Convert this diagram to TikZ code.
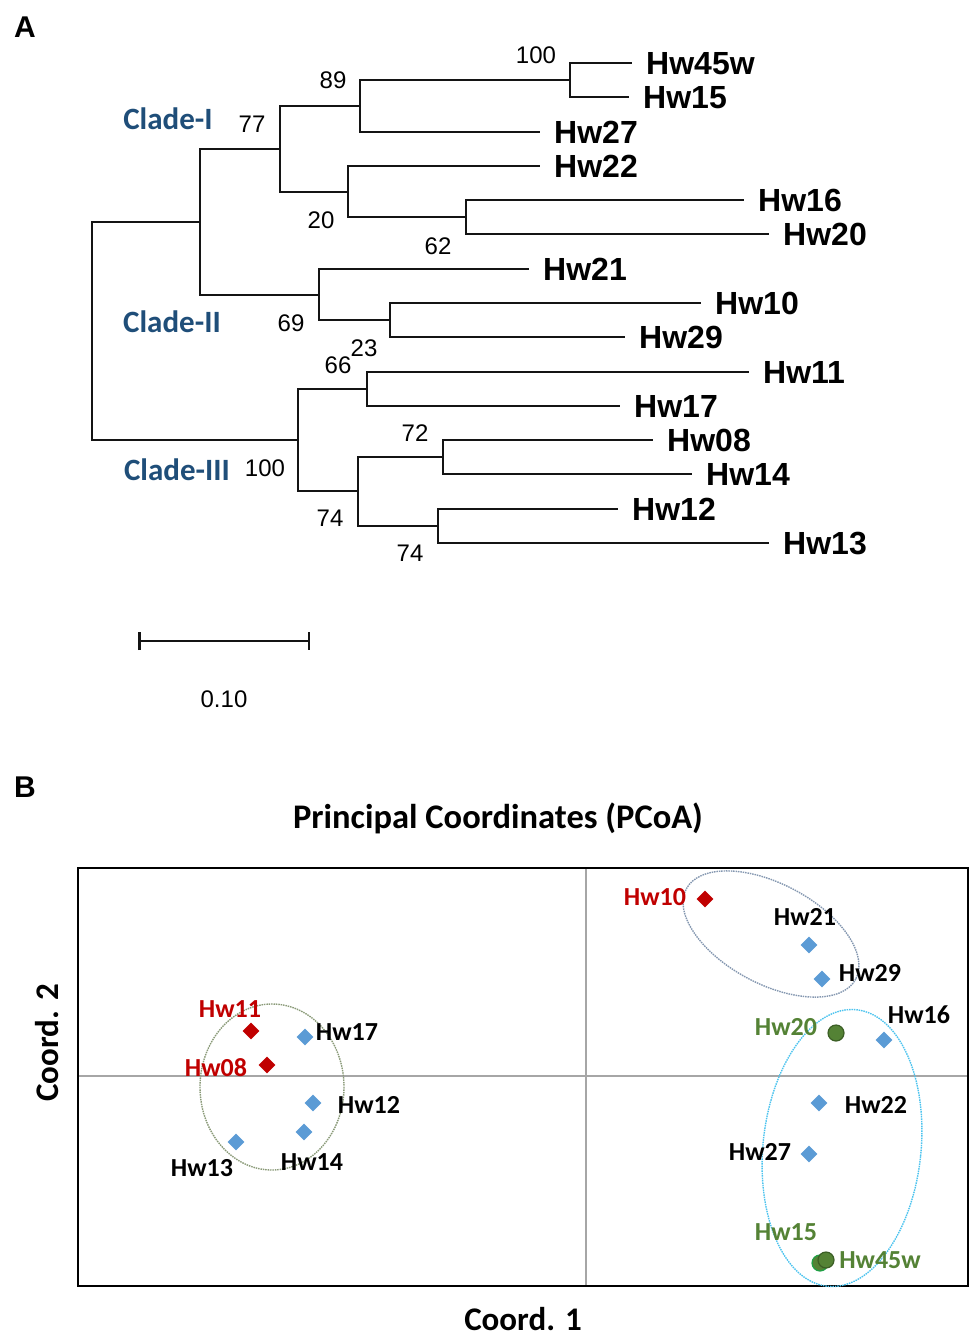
\documentclass[tikz,border=0pt]{standalone}
\usepackage{fontspec}
\setmainfont{Liberation Sans}
\newfontfamily\calfont{Carlito}
\usepackage{tikz}
\usetikzlibrary{arrows.meta,positioning,shapes.geometric}
\definecolor{treeline}{HTML}{141414}
\definecolor{cladeblue}{HTML}{1F4E79}
\definecolor{ptblue}{HTML}{5B9BD5}
\definecolor{ptred}{HTML}{C00000}
\definecolor{ptgreen}{HTML}{548235}
\definecolor{ptgreendark}{HTML}{3B5E25}
\definecolor{ptgreenlight}{HTML}{1FA045}
\definecolor{axisgray}{HTML}{A6A6A6}
\definecolor{ringblue}{HTML}{8497B0}
\definecolor{ringcyan}{HTML}{4CC3EE}
\definecolor{ringgreen}{HTML}{8A9A78}
\tikzset{
    panel/.style={font=\fontsize{30}{30}\selectfont\bfseries, inner sep=0pt},
    leaf/.style={anchor=west, inner xsep=15pt, inner ysep=0pt, font=\fontsize{32}{32}\selectfont\bfseries, text height=23pt, text depth=0pt},
    boot/.style={font=\fontsize{24}{24}\selectfont, inner sep=0pt},
    clade/.style={font=\fontsize{31}{31}\selectfont\calfont\bfseries, text=cladeblue, inner sep=0pt},
    elbow/.style={to path={|- (\tikztotarget) \tikztonodes}},
    branch/.style={draw=treeline, line width=2.4pt, line cap=rect, elbow},
    pcoa/.style={font=\fontsize{33}{33}\selectfont\calfont\bfseries, inner sep=0pt},
    ptlabel/.style={font=\fontsize{26}{26}\selectfont\calfont\bfseries, inner sep=0pt},
    bluept/.style={diamond, fill=ptblue, inner sep=0pt, minimum size=17pt},
    redpt/.style={diamond, fill=ptred, inner sep=0pt, minimum size=17pt},
    greenpt/.style={circle, fill=ptgreen, draw=ptgreendark, line width=1.2pt, inner sep=0pt, minimum size=16pt},
    ring/.style={line width=1.4pt, dash pattern=on 1.5pt off 0.9pt}
}
\begin{document}
\begin{tikzpicture}[x=1pt,y=-1pt]
    \useasboundingbox (0,0) rectangle (975,1337);
    \node[panel] (pa) at (25,27) {A};
    \coordinate (root) at (92,331);
    \coordinate (nA) at (200,222);
    \coordinate (n77) at (280,149);
    \coordinate (n89) at (360,106);
    \coordinate (n100a) at (570,80);
    \coordinate (n20) at (348,192);
    \coordinate (n62) at (466,217);
    \coordinate (n69) at (319,295);
    \coordinate (n23) at (390,320);
    \coordinate (nC) at (298,440);
    \coordinate (n66) at (367,389);
    \coordinate (n74a) at (358,491);
    \coordinate (n72) at (443,457);
    \coordinate (n74b) at (438,526);
    \node[leaf] (hw45w) at (631,63) {Hw45w};
    \node[leaf] (hw15) at (628,97) {Hw15};
    \node[leaf] (hw27) at (539,132) {Hw27};
    \node[leaf] (hw22) at (539,166) {Hw22};
    \node[leaf] (hw16) at (743,200) {Hw16};
    \node[leaf] (hw20) at (768,234) {Hw20};
    \node[leaf] (hw21) at (528,269) {Hw21};
    \node[leaf] (hw10) at (700,303) {Hw10};
    \node[leaf] (hw29) at (624,337) {Hw29};
    \node[leaf] (hw11) at (748,372) {Hw11};
    \node[leaf] (hw17) at (619,406) {Hw17};
    \node[leaf] (hw08) at (652,440) {Hw08};
    \node[leaf] (hw14) at (691,474) {Hw14};
    \node[leaf] (hw12) at (617,509) {Hw12};
    \node[leaf] (hw13) at (768,543) {Hw13};
    \path (root) edge[branch] (nA)
          (root) edge[branch] (nC)
          (nA) edge[branch] (n77)
          (nA) edge[branch] (n69)
          (n77) edge[branch] (n89)
          (n77) edge[branch] (n20)
          (n89) edge[branch] (n100a)
          (n89) edge[branch] (hw27.west)
          (n100a) edge[branch] (hw45w.west)
          (n100a) edge[branch] (hw15.west)
          (n20) edge[branch] (hw22.west)
          (n20) edge[branch] (n62)
          (n62) edge[branch] (hw16.west)
          (n62) edge[branch] (hw20.west)
          (n69) edge[branch] (hw21.west)
          (n69) edge[branch] (n23)
          (n23) edge[branch] (hw10.west)
          (n23) edge[branch] (hw29.west)
          (nC) edge[branch] (n66)
          (nC) edge[branch] (n74a)
          (n66) edge[branch] (hw11.west)
          (n66) edge[branch] (hw17.west)
          (n74a) edge[branch] (n72)
          (n74a) edge[branch] (n74b)
          (n72) edge[branch] (hw08.west)
          (n72) edge[branch] (hw14.west)
          (n74b) edge[branch] (hw12.west)
          (n74b) edge[branch] (hw13.west);
    \node[boot] (b100a) at (536,55) {100};
    \node[boot] (b89) at (333,80) {89};
    \node[boot] (b77) at (252,124) {77};
    \node[boot] (b20) at (321,220) {20};
    \node[boot] (b62) at (438,246) {62};
    \node[boot] (b69) at (291,323) {69};
    \node[boot] (b23) at (364,348) {23};
    \node[boot] (b66) at (338,365) {66};
    \node[boot] (b72) at (415,433) {72};
    \node[boot] (b100c) at (265,468) {100};
    \node[boot] (b74a) at (330,518) {74};
    \node[boot] (b74b) at (410,553) {74};
    \node[clade] (c1) at (168,119) {Clade-I};
    \node[clade] (c2) at (172,322) {Clade-II};
    \node[clade] (c3) at (177,470) {Clade-III};
    \coordinate (sbl) at (138,641);
    \coordinate (sbr) at (310,641);
    \draw[treeline, line width=2.5pt, {Bar[width=18pt]}-{Bar[width=18pt]}] (sbl) -- (sbr);
    \node[boot] (sblab) at (224,699) {0.10};

    \node[panel] (pb) at (25,787) {B};
    \node[pcoa, font=\fontsize{34.5}{34.5}\selectfont\calfont\bfseries] (title) at (498,818) {Principal Coordinates (PCoA)};
    \coordinate (bxnw) at (78,868);
    \coordinate (bxse) at (968,1286);
    \coordinate (axl) at (78,1076);
    \coordinate (axr) at (968,1076);
    \coordinate (ayt) at (586,868);
    \coordinate (ayb) at (586,1286);
    \draw[axisgray, line width=1.8pt] (axl) -- (axr) (ayt) -- (ayb);
    \draw[black, line width=2pt] (bxnw) rectangle (bxse);
    \node[pcoa] (xlab) at (523,1319) {Coord. 1};
    \node[pcoa, rotate=90] (ylab) at (47,1043) {Coord. 2};
    \draw[ring, ringblue, rotate around={-28:(771,934)}] (771,934) ellipse [x radius=96, y radius=50];
    \draw[ring, ringcyan, rotate around={-6:(842,1148)}] (842,1148) ellipse [x radius=79, y radius=139];
    \draw[ring, ringgreen] (272,1087) ellipse [x radius=72, y radius=83];
    \node[redpt] (p10) at (705,899) {};
    \node[bluept] (p21) at (809,945) {};
    \node[bluept] (p29) at (822,979) {};
    \node[greenpt] (p20) at (836,1033) {};
    \node[bluept] (p16) at (884,1040) {};
    \node[bluept] (p22) at (819,1103) {};
    \node[bluept] (p27) at (809,1154) {};
    \node[greenpt, draw=ptgreenlight] (p15) at (820,1263) {};
    \node[greenpt] (p45w) at (826,1260) {};
    \node[redpt] (p11) at (251,1031) {};
    \node[redpt] (p08) at (267,1065) {};
    \node[bluept] (p17) at (305,1037) {};
    \node[bluept] (p12) at (313,1103) {};
    \node[bluept] (p14) at (304,1132) {};
    \node[bluept] (p13) at (236,1142) {};
    \node[ptlabel, text=ptred] (t10) at (655,897) {Hw10};
    \node[ptlabel] (t21) at (805,917) {Hw21};
    \node[ptlabel] (t29) at (870,973) {Hw29};
    \node[ptlabel, text=ptgreen] (t20) at (786,1027) {Hw20};
    \node[ptlabel] (t16) at (919,1015) {Hw16};
    \node[ptlabel] (t22) at (876,1105) {Hw22};
    \node[ptlabel] (t27) at (760,1152) {Hw27};
    \node[ptlabel, text=ptgreen] (t15) at (786,1232) {Hw15};
    \node[ptlabel, text=ptgreen] (t45w) at (880,1260) {Hw45w};
    \node[ptlabel, text=ptred] (t11) at (230,1009) {Hw11};
    \node[ptlabel, text=ptred] (t08) at (216,1068) {Hw08};
    \node[ptlabel] (t17) at (347,1032) {Hw17};
    \node[ptlabel] (t12) at (369,1105) {Hw12};
    \node[ptlabel] (t14) at (312,1162) {Hw14};
    \node[ptlabel] (t13) at (202,1168) {Hw13};
\end{tikzpicture}
\end{document}
